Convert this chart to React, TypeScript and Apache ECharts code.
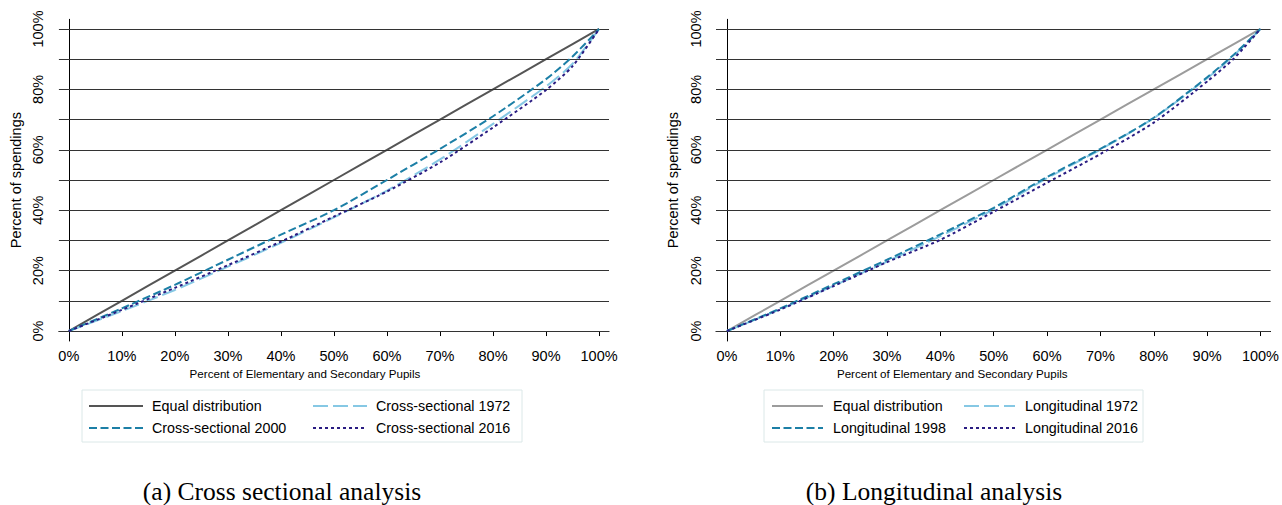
import React, { useEffect, useRef } from "react";
import * as echarts from "echarts";

// ---------------- data ----------------
const xPoints = [0, 10, 20, 30, 40, 50, 60, 70, 80, 90, 95, 100];
const equalLine = [0, 10, 20, 30, 40, 50, 60, 70, 80, 90, 95, 100];

// Cross sectional analysis
const cs1972 = [0, 6.6, 13.6, 21.3, 29.2, 37.6, 46.5, 56.8, 68.6, 81.0, 88.5, 100];
const cs2000 = [0, 7.5, 15.3, 23.6, 31.9, 40.0, 50.0, 60.3, 71.1, 83.4, 90.9, 100];
const cs2016 = [0, 7.0, 14.3, 21.8, 29.6, 37.9, 46.2, 55.8, 67.4, 79.8, 87.7, 100];

// Longitudinal analysis
const lg1972 = [0, 7.2, 15.0, 23.0, 31.4, 40.3, 50.6, 60.1, 70.5, 83.7, 91.2, 100];
const lg1998 = [0, 7.5, 15.5, 23.6, 32.0, 40.8, 51.0, 60.3, 70.6, 84.0, 91.5, 100];
const lg2016 = [0, 7.1, 14.9, 22.8, 30.2, 39.5, 49.1, 58.6, 69.0, 82.6, 90.2, 100];

const xTickValues = [0, 10, 20, 30, 40, 50, 60, 70, 80, 90, 100];
const yTickValues = [0, 20, 40, 60, 80, 100];
const gridValues = [0, 10, 20, 30, 40, 50, 60, 70, 80, 90, 100];

const xAxisName = "Percent of Elementary and Secondary Pupils";
const yAxisName = "Percent of spendings";

const SANS = '"Liberation Sans", Arial, Helvetica, sans-serif';
const SERIF = '"Liberation Serif", "Times New Roman", serif';

type Curve = { name: string; values: number[]; color: string; dash: number[] | "solid"; width: number };

type PanelCfg = {
  gridLeft: number;
  gridRight: number;
  xMin: number;
  xMax: number;
  xNamePad: number;
  curves: Curve[];
  col1: string[];
  col2: string[];
  col1Left: number;
  col2Left: number;
  itemWidth: number;
  textPad: number;
  boxX: number;
  boxW: number;
  caption: string;
  captionX: number;
};

const leftCfg: PanelCfg = {
  gridLeft: 53,
  gridRight: 32,
  xMin: -1.87,
  xMax: 101.87,
  xNamePad: 58,
  curves: [
    { name: "Equal distribution", values: equalLine, color: "#555555", dash: "solid", width: 2 },
    { name: "Cross-sectional 1972", values: cs1972, color: "#86c8e4", dash: [15, 5], width: 2 },
    { name: "Cross-sectional 2000", values: cs2000, color: "#1c7fa6", dash: [8, 3.5], width: 2 },
    { name: "Cross-sectional 2016", values: cs2016, color: "#2a1c82", dash: [3, 3], width: 2 },
  ],
  col1: ["Equal distribution", "Cross-sectional 2000"],
  col2: ["Cross-sectional 1972", "Cross-sectional 2016"],
  col1Left: 88,
  col2Left: 312,
  itemWidth: 54,
  textPad: 4,
  boxX: 82,
  boxW: 440,
  caption: "(a) Cross sectional analysis",
  captionX: 282,
};

const rightCfg: PanelCfg = {
  gridLeft: 75,
  gridRight: 10,
  xMin: -2.05,
  xMax: 101.9,
  xNamePad: 82,
  curves: [
    { name: "Equal distribution", values: equalLine, color: "#9c9c9c", dash: "solid", width: 2 },
    { name: "Longitudinal 1972", values: lg1972, color: "#86c8e4", dash: [15, 5], width: 2 },
    { name: "Longitudinal 1998", values: lg1998, color: "#1c7fa6", dash: [8, 3.5], width: 2 },
    { name: "Longitudinal 2016", values: lg2016, color: "#2a1c82", dash: [3, 3], width: 2 },
  ],
  col1: ["Equal distribution", "Longitudinal 1998"],
  col2: ["Longitudinal 1972", "Longitudinal 2016"],
  col1Left: 130,
  col2Left: 322,
  itemWidth: 51,
  textPad: 5,
  boxX: 123,
  boxW: 379,
  caption: "(b) Longitudinal analysis",
  captionX: 293,
};

function buildOption(cfg: PanelCfg) {
  const legendBase = (data: string[], left: number) => ({
    data,
    left,
    top: 398,
    orient: "vertical",
    padding: 0,
    itemGap: 6,
    itemWidth: cfg.itemWidth,
    itemHeight: 14,
    selectedMode: false,
    itemStyle: { opacity: 0 },
    textStyle: {
      fontFamily: SANS,
      fontSize: 14.3,
      color: "#000",
      lineHeight: 16,
      padding: [0, 0, 0, cfg.textPad],
    },
  });

  return {
    animation: false,
    backgroundColor: "#fff",
    grid: {
      left: cfg.gridLeft,
      right: cfg.gridRight,
      top: 19.3,
      bottom: 164,
      containLabel: false,
    },
    xAxis: {
      type: "value",
      min: cfg.xMin,
      max: cfg.xMax,
      name: xAxisName,
      nameLocation: "middle",
      nameGap: 26,
      nameTextStyle: {
        fontFamily: SANS,
        fontSize: 11.6,
        color: "#000",
        padding: [0, cfg.xNamePad, 0, 0],
      },
      axisLine: { show: true, lineStyle: { color: "#000", width: 1 } },
      axisTick: { show: true, customValues: xTickValues, length: 5, lineStyle: { color: "#000" } },
      axisLabel: {
        customValues: xTickValues,
        formatter: (v: number) => `${v}%`,
        fontFamily: SANS,
        fontSize: 14.5,
        color: "#000",
        margin: 7,
      },
      splitLine: { show: false },
    },
    yAxis: {
      type: "value",
      min: -3.3,
      max: 103.2,
      name: yAxisName,
      nameLocation: "middle",
      nameGap: 29,
      nameTextStyle: { fontFamily: SANS, fontSize: 14.5, color: "#000" },
      axisLine: { show: true, lineStyle: { color: "#000", width: 1 } },
      axisTick: { show: true, customValues: yTickValues, length: 6, lineStyle: { color: "#000" } },
      axisLabel: {
        customValues: yTickValues,
        formatter: (v: number) => `${v}%`,
        rotate: 90,
        fontFamily: SANS,
        fontSize: 14.5,
        color: "#000",
        margin: 13,
      },
      splitLine: { show: false },
    },
    legend: [legendBase(cfg.col1, cfg.col1Left), legendBase(cfg.col2, cfg.col2Left)],
    graphic: [
      {
        type: "rect",
        shape: { x: cfg.boxX, y: 390, width: cfg.boxW, height: 52 },
        style: { fill: "none", stroke: "#dbe8e8", lineWidth: 1 },
        silent: true,
        z: 0,
      },
      {
        type: "text",
        x: cfg.captionX,
        y: 491,
        style: {
          text: cfg.caption,
          fontFamily: SERIF,
          fontSize: 25.5,
          fill: "#000",
          textAlign: "center",
          textVerticalAlign: "middle",
        },
        silent: true,
      },
    ],
    series: [
      {
        type: "line",
        data: [],
        silent: true,
        z: 1,
        markLine: {
          silent: true,
          symbol: ["none", "none"],
          label: { show: false },
          lineStyle: { color: "#333333", width: 1.2, type: "solid" },
          emphasis: { disabled: true },
          data: gridValues.map((v) => ({ yAxis: v })),
        },
      },
      ...cfg.curves.map((c, idx) => ({
        type: "line",
        name: c.name,
        z: 3 + idx,
        symbol: "none",
        showSymbol: false,
        smooth: 0.25,
        silent: true,
        lineStyle: { color: c.color, width: c.width, type: c.dash },
        itemStyle: { color: c.color },
        data: xPoints.map((x, i) => [x, c.values[i]]),
      })),
    ],
  };
}

function Panel({ cfg }: { cfg: PanelCfg }) {
  const ref = useRef<HTMLDivElement>(null);
  useEffect(() => {
    if (!ref.current) return;
    const chart = echarts.init(ref.current, undefined, { renderer: "svg" });
    chart.setOption(buildOption(cfg) as any);
    return () => {
      chart.dispose();
    };
  }, [cfg]);
  return <div ref={ref} style={{ width: 641, height: 505 }} />;
}

export default function App() {
  return (
    <div
      style={{
        position: "absolute",
        left: 0,
        top: 0,
        width: 1282,
        height: 505,
        display: "flex",
        background: "#fff",
      }}
    >
      <Panel cfg={leftCfg} />
      <Panel cfg={rightCfg} />
    </div>
  );
}
